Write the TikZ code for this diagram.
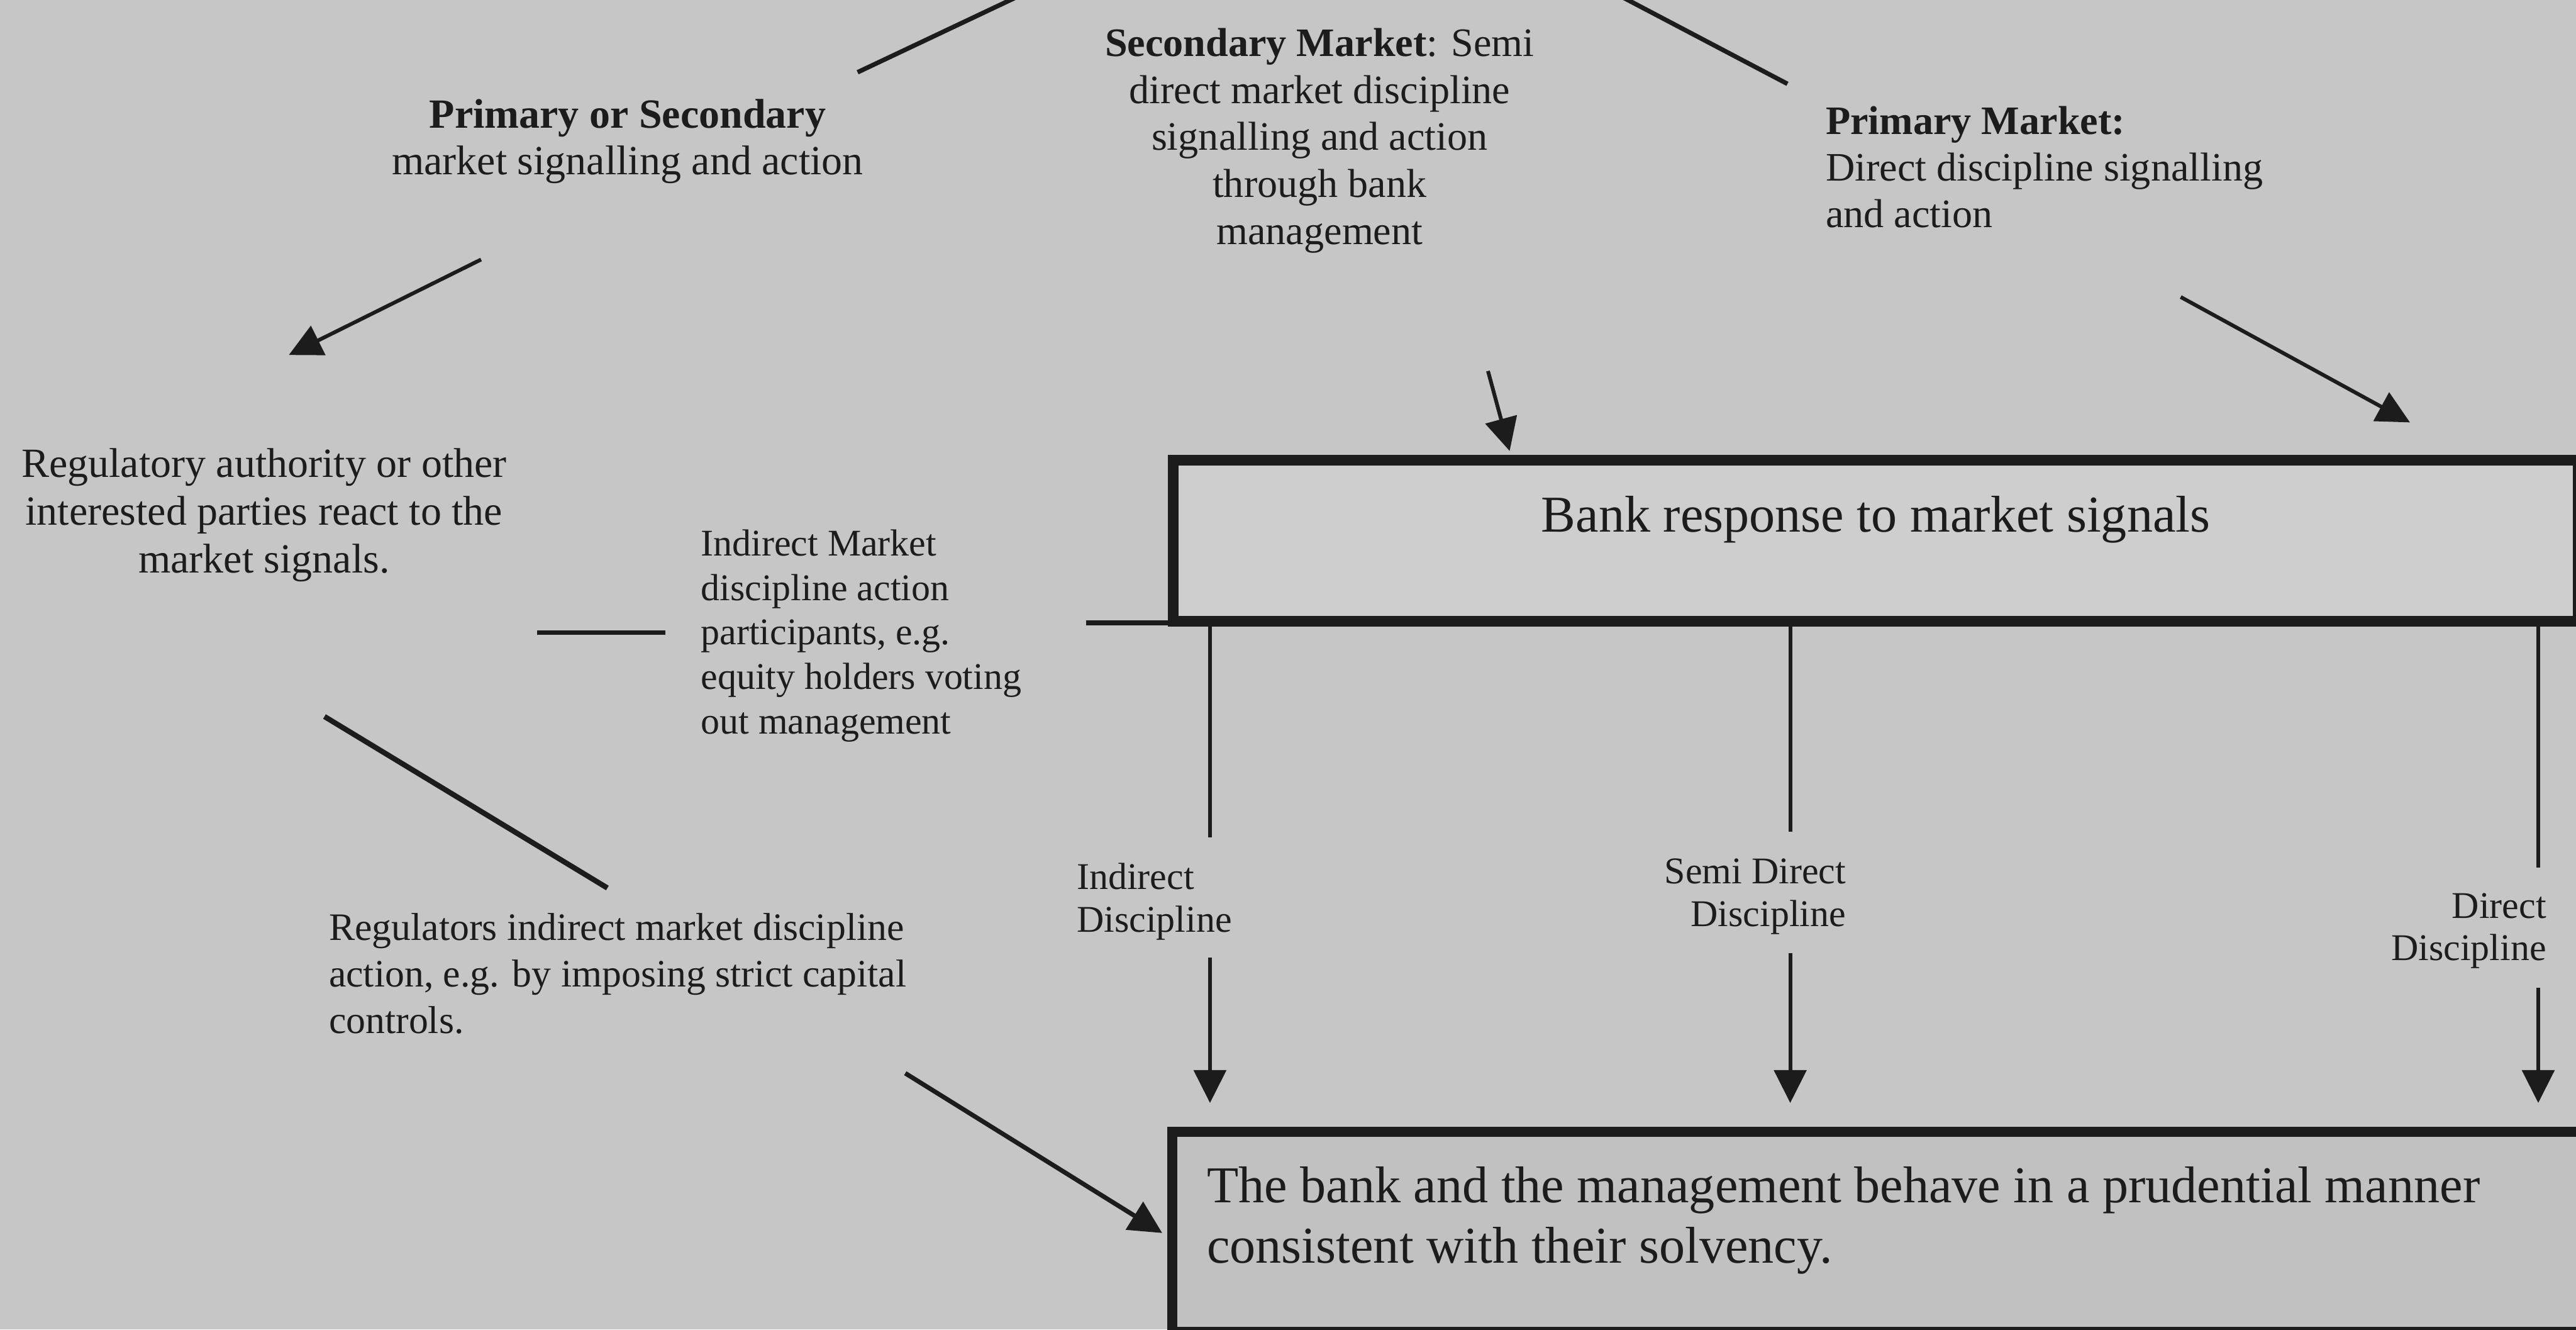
\documentclass[tikz,border=0pt]{standalone}
\usepackage{fontspec}
\setmainfont{Liberation Serif}
\usetikzlibrary{arrows.meta,positioning}
\definecolor{paper}{RGB}{198,198,198}
\definecolor{boxA}{RGB}{206,206,206}
\definecolor{boxB}{RGB}{193,193,193}
\definecolor{ink}{RGB}{28,28,28}
\begin{document}
\begin{tikzpicture}[
  txt/.style={inner sep=0pt,text=ink},
  arr/.style={draw=ink,line width=1pt,-{Triangle[length=8.7pt,width=8.5pt]}},
  ln/.style={draw=ink,line width=1.2pt},
  frame/.style={draw=ink,line width=2.8pt,inner sep=0pt}]
\useasboundingbox[fill=paper] (0,0) rectangle (24,-12.381);

% the two boxes
\node[frame,fill=boxA,anchor=north west,minimum width=13.087cm,
  text height=0.667cm,text depth=0.833cm,text=ink,
  font=\fontsize{13.7}{16.5}\selectfont] (resp) at (10.883,-4.235)
  {Bank response to market signals};
\node[frame,fill=boxB,anchor=north west,minimum width=13.3cm,
  minimum height=1.867cm] (sol) at (10.872,-10.492) {};
\node[txt,align=left,font=\fontsize{13.7}{16.1}\selectfont,
  below right=0.364cm and 0.366cm of sol.north west] (soltxt)
  {The bank and the management behave in a prudential manner\\
   consistent with their solvency.};

% texts
\node[txt,anchor=north,align=center,font=\fontsize{11}{12.4}\selectfont]
  (psec) at (5.847,-0.915) {\textbf{Primary or Secondary}\\market signalling and action};
\node[txt,anchor=north,align=center,font=\fontsize{10.7}{12.45}\selectfont]
  (smkt) at (12.295,-0.257) {\textbf{Secondary Market}: Semi\\direct market discipline\\
  signalling and action\\through bank\\management};
\node[txt,anchor=north west,align=left,font=\fontsize{10.7}{12.4}\selectfont]
  (pmkt) at (17.003,-0.980) {\textbf{Primary Market:}\\Direct discipline signalling\\and action};
\node[txt,anchor=north,align=center,font=\fontsize{11}{12.7}\selectfont]
  (reg) at (2.460,-4.169) {Regulatory authority or other\\interested parties react to the\\market signals.};
\node[txt,anchor=north west,align=left,font=\fontsize{10}{11.8}\selectfont]
  (imkt) at (6.523,-4.925) {Indirect Market\\discipline action\\participants, e.g.\\
  equity holders voting\\out management};
\node[txt,anchor=north west,align=left,font=\fontsize{10.3}{12.4}\selectfont]
  (regi) at (3.058,-8.496) {Regulators indirect market discipline\\
  action, e.g. by imposing strict capital\\controls.};
\node[txt,anchor=north west,align=left,font=\fontsize{10}{11.3}\selectfont]
  (dind) at (10.025,-8.034) {Indirect\\Discipline};
\node[txt,anchor=north east,align=right,font=\fontsize{10}{11.3}\selectfont]
  (dsemi) at (17.204,-7.988) {Semi Direct\\Discipline};
\node[txt,anchor=north east,align=right,font=\fontsize{10}{11.3}\selectfont]
  (ddir) at (23.730,-8.310) {Direct\\Discipline};

% free ends
\coordinate (t1a) at (7.990,-0.673);  \coordinate (t1b) at (9.796,0.181);
\coordinate (t2a) at (14.847,0.168);  \coordinate (t2b) at (16.653,-0.781);
\coordinate (a1s) at (4.482,-2.417);  \coordinate (a1e) at (2.691,-3.306);
\coordinate (a2s) at (13.863,-3.455); \coordinate (a2e) at (14.065,-4.200);
\coordinate (a3s) at (20.317,-2.766); \coordinate (a3e) at (22.453,-3.934);
\coordinate (a4s) at (8.434,-9.995);  \coordinate (a4e) at (10.828,-11.483);
\coordinate (l6a) at (5.005,-5.893);  \coordinate (l6b) at (6.199,-5.893);
\coordinate (l7) at (10.117,-5.800);
\coordinate (l8a) at (3.023,-6.673);  \coordinate (l8b) at (5.659,-8.270);
\coordinate (i1) at (11.273,-7.798);  \coordinate (i2) at (11.273,-8.917);
\coordinate (s1) at (16.679,-7.745);  \coordinate (s2) at (16.679,-8.878);
\coordinate (d1) at (23.648,-8.082);  \coordinate (d2) at (23.648,-9.199);

% connectors
\draw[ln] (t1a) -- (t1b);
\draw[ln] (t2a) -- (t2b);
\draw[arr] (a1s) -- (a1e);
\draw[arr] (a2s) -- (a2e);
\draw[arr] (a3s) -- (a3e);
\draw[arr,line width=1.2pt] (a4s) -- (a4e);
\draw[ln] (l6a) -- (l6b);
\draw[ln] (l7) -- (l7 -| resp.south west);
\draw[ln,line width=1.4pt] (l8a) -- (l8b);
\draw[ln,line width=1pt] (resp.south -| i1) -- (i1);
\draw[ln,line width=1pt] (resp.south -| s1) -- (s1);
\draw[ln,line width=1pt] (resp.south -| d1) -- (d1);
\draw[arr,shorten >=0.22cm] (i2) -- (i2 |- sol.north);
\draw[arr,shorten >=0.22cm] (s2) -- (s2 |- sol.north);
\draw[arr,shorten >=0.22cm] (d2) -- (d2 |- sol.north);
\end{tikzpicture}
\end{document}
